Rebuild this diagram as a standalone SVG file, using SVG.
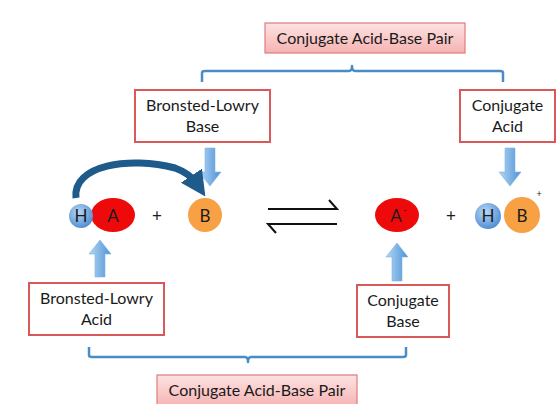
<svg xmlns="http://www.w3.org/2000/svg" width="560" height="404" viewBox="0 0 560 404">
<style>
.t{font-family:Lato,"Open Sans","Liberation Sans",sans-serif;font-size:16px;fill:#1a1a1a;text-anchor:middle}
.m{font-family:Lato,"Open Sans","Liberation Sans",sans-serif;font-size:17px;fill:#1a1a1a;text-anchor:middle}
.box{fill:#fff;stroke:#d9595b;stroke-width:2}
.pair{fill:url(#pink);stroke:#e07c7c;stroke-width:1.2}
.br{fill:none;stroke:#4a8cc7;stroke-width:2.5;stroke-linejoin:round}
.blk{fill:url(#blue);stroke:#7fb3e3;stroke-width:0.6}
.eq{fill:none;stroke:#111;stroke-width:2}
</style>
<defs>
<linearGradient id="pink" x1="0" y1="0" x2="0" y2="1"><stop offset="0" stop-color="#fde3e3"/><stop offset="1" stop-color="#f6b2b2"/></linearGradient>
<linearGradient id="blue" x1="0" y1="0" x2="1" y2="0"><stop offset="0" stop-color="#b4d6f3"/><stop offset="1" stop-color="#4d93d8"/></linearGradient>
<radialGradient id="hg" cx="0.4" cy="0.35" r="0.7"><stop offset="0" stop-color="#b9d8f5"/><stop offset="1" stop-color="#4a8ad0"/></radialGradient>
<marker id="ah" viewBox="0 0 10 10" refX="4" refY="5" markerWidth="3.6" markerHeight="3.6" orient="auto"><path d="M0,0 L10,5 L0,10 z" fill="#1e5b8a"/></marker>
</defs>

<g id="connectors">
<path class="br" d="M202,82 V73 Q202,71 205,71 H349 Q352,71 352,66 Q352,71 355,71 H500 Q503,71 503,73 V82"/>
<path class="br" d="M89,347 V355 Q89,357 92,357 H245 Q248,357 248,362 Q248,357 251,357 H403 Q406,357 406,355 V347"/>
<path class="blk" d="M205,148 H215 V172 H221 L210,186 L199,172 H205 Z"/>
<path class="blk" d="M505,148 H515 V172 H521 L510,186 L499,172 H505 Z"/>
<path class="blk" d="M95,277 H105 V254 H111 L100,240 L89,254 H95 Z"/>
<path class="blk" d="M392,281 H402 V257 H408 L397,243 L386,257 H392 Z"/>
<path d="M76,198 C72,165 130,156 175,168 C186,172 193,178 197,184" fill="none" stroke="#1e5b8a" stroke-width="7" marker-end="url(#ah)"/>
<path class="eq" d="M268,209 H337 L329,200"/>
<path class="eq" d="M337,224 H268 L276,233"/>
</g>

<g id="pair-top"><rect class="pair" x="265" y="23" width="200" height="30"/><text class="t" x="365" y="44">Conjugate Acid-Base Pair</text></g>
<g id="bl-base"><rect class="box" x="135" y="90" width="135" height="52"/><text class="t" x="202.5" y="111">Bronsted-Lowry</text><text class="t" x="202.5" y="132">Base</text></g>
<g id="conj-acid"><rect class="box" x="460" y="90" width="95" height="52"/><text class="t" x="507.5" y="111">Conjugate</text><text class="t" x="507.5" y="132">Acid</text></g>
<g id="bl-acid"><rect class="box" x="29" y="283" width="135" height="52"/><text class="t" x="96.5" y="304">Bronsted-Lowry</text><text class="t" x="96.5" y="325">Acid</text></g>
<g id="conj-base"><rect class="box" x="357" y="285" width="92" height="52"/><text class="t" x="403" y="306">Conjugate</text><text class="t" x="403" y="327">Base</text></g>
<g id="pair-bottom"><rect class="pair" x="157" y="375" width="200" height="32"/><text class="t" x="257" y="396">Conjugate Acid-Base Pair</text></g>

<g id="HA">
<ellipse cx="113" cy="215" rx="22" ry="17" fill="#ee0a0a"/>
<circle cx="81" cy="216" r="12" fill="url(#hg)"/>
<text class="m" x="81" y="222">H</text>
<text class="m" x="113" y="222">A</text>
</g>
<g id="plus1"><text class="m" x="157" y="222">+</text></g>
<g id="B"><circle cx="205" cy="215" r="17" fill="#f7a044"/><text class="m" x="205" y="222">B</text></g>
<g id="Aminus"><ellipse cx="397" cy="215" rx="22" ry="17" fill="#ee0a0a"/><text class="m" x="396" y="222">A</text><text class="m" x="405" y="213" style="font-size:9px">-</text></g>
<g id="plus2"><text class="m" x="451" y="222">+</text></g>
<g id="HB">
<circle cx="522" cy="215" r="18" fill="#f7a044"/>
<circle cx="488" cy="216" r="13" fill="url(#hg)"/>
<text class="m" x="488" y="222">H</text>
<text class="m" x="522" y="222">B</text>
<text class="m" x="539" y="197" style="font-size:9px">+</text>
</g>
</svg>
